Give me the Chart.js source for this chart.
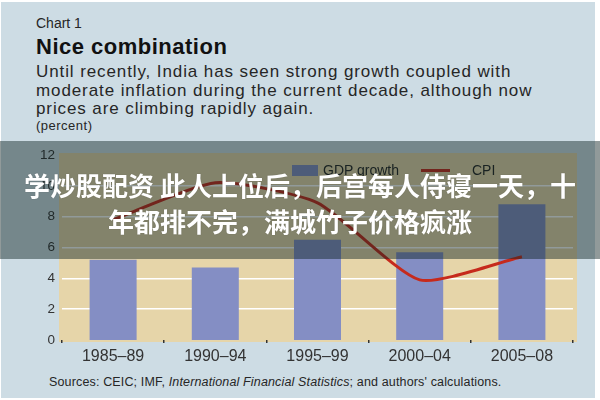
<!DOCTYPE html>
<html><head><meta charset="utf-8">
<script src="https://cdn.jsdelivr.net/npm/chart.js@4.4.1/dist/chart.umd.min.js"></script>
<style>
html,body{margin:0;padding:0;background:#fff;width:600px;height:400px;overflow:hidden}
#panel{position:absolute;left:1px;top:2px;width:594px;height:396px;background:#cddce4}
.t{position:absolute;font-family:"Liberation Sans",Arial,sans-serif;color:#262626;white-space:nowrap}
#wrap{position:absolute;left:0;top:0;width:600px;height:400px}
#legend{position:absolute;left:0;top:0;width:600px;height:400px;pointer-events:none}
#overlay{position:absolute;left:0;top:141px;width:600px;height:118px;background:rgba(10,30,30,0.45)}
#cn{position:absolute;left:0;top:141px;width:600px;text-align:center;color:#fff;font-family:"Noto Sans CJK SC",sans-serif;font-weight:bold;font-size:26px;line-height:36px;padding-top:26px;text-shadow:0 0 1px rgba(0,0,0,0.3)}
</style></head>
<body>
<div id="panel"></div>
<div class="t" style="left:36px;top:15px;font-size:14px;line-height:16px">Chart 1</div>
<div class="t" style="left:36px;top:35px;font-size:22px;line-height:23px;font-weight:bold;color:#111;letter-spacing:0.5px">Nice combination</div>
<div class="t" style="left:36px;top:63px;font-size:17px;line-height:18.5px;letter-spacing:0.9px">Until recently, India has seen strong growth coupled with<br>moderate inflation during the current decade, although now<br>prices are climbing rapidly again.</div>
<div class="t" style="left:36px;top:119px;font-size:13px;line-height:14px;letter-spacing:0.5px">(percent)</div>
<div class="t" style="left:49px;top:375px;font-size:12.5px;line-height:14px;letter-spacing:0.15px">Sources: CEIC; IMF, <i>International Financial Statistics</i>; and authors' calculations.</div>
<div id="wrap"><canvas id="c" width="600" height="400"></canvas></div>
<div id="legend">
  <div style="position:absolute;left:292px;top:165px;width:26px;height:11px;background:#848ec4"></div>
  <div class="t" style="left:323px;top:163px;font-size:14px;line-height:15px">GDP growth</div>
  <div style="position:absolute;left:421px;top:169px;width:29px;height:3px;background:#c62a1c"></div>
  <div class="t" style="left:472px;top:163px;font-size:14px;line-height:15px">CPI</div>
</div>
<div id="overlay"></div>
<div id="cn">学炒股配资 此人上位后，后宫每人侍寝一天，十<br><span style="padding-right:20px">年都排不完，满城竹子价格疯涨</span></div>
<script>
const categories = ["1985–89","1990–94","1995–99","2000–04","2005–08"];
const gdpGrowth = [5.2, 4.7, 6.5, 5.7, 8.8];
const cpi = [7.8, 10.2, 8.9, 3.9, 5.4];
const yTicks = [0, 2, 4, 6, 8, 10, 12];

const plotBg = {
  id: 'plotBg',
  beforeDraw(chart) {
    const {ctx, chartArea: a} = chart;
    ctx.save();
    ctx.fillStyle = '#e6d5a9';
    ctx.fillRect(a.left - 3, a.top - 2, a.right - a.left + 7, a.bottom - a.top + 4);
    ctx.restore();
  }
};

new Chart(document.getElementById('c'), {
  type: 'bar',
  data: {
    labels: categories,
    datasets: [
      { type: 'line', label: 'CPI', data: cpi, borderColor: '#c62a1c', borderWidth: 3,
        pointRadius: 0, tension: 0.2, fill: false, order: 0 },
      { type: 'bar', label: 'GDP growth', data: gdpGrowth, backgroundColor: '#848ec4',
        barPercentage: 0.46, categoryPercentage: 1, order: 1 }
    ]
  },
  options: {
    responsive: false,
    animation: false,
    layout: { padding: { left: 22, right: 27, top: 155, bottom: 30 } },
    plugins: { legend: { display: false }, tooltip: { enabled: false } },
    scales: {
      y: {
        min: 0, max: 12,
        afterFit(s) { s.width = 40; },
        afterBuildTicks(s) { s.ticks = yTicks.map(v => ({ value: v })); },
        border: { display: false },
        grid: { color: '#ffffff', lineWidth: c => (c.tick.value === 0 || c.tick.value === 12) ? 0 : 1.6, drawTicks: false },
        ticks: { padding: 7, color: '#333', font: { family: 'Liberation Sans', size: 13.5 } }
      },
      x: {
        afterFit(s) { s.height = 30; },
        border: { display: false },
        grid: { drawOnChartArea: false, drawTicks: true, tickLength: 3, color: '#333', lineWidth: 1.5, offset: true },
        ticks: { padding: 4, color: '#333', font: { family: 'Liberation Sans', size: 16 } }
      }
    }
  },
  plugins: [plotBg]
});
</script>
</body></html>
